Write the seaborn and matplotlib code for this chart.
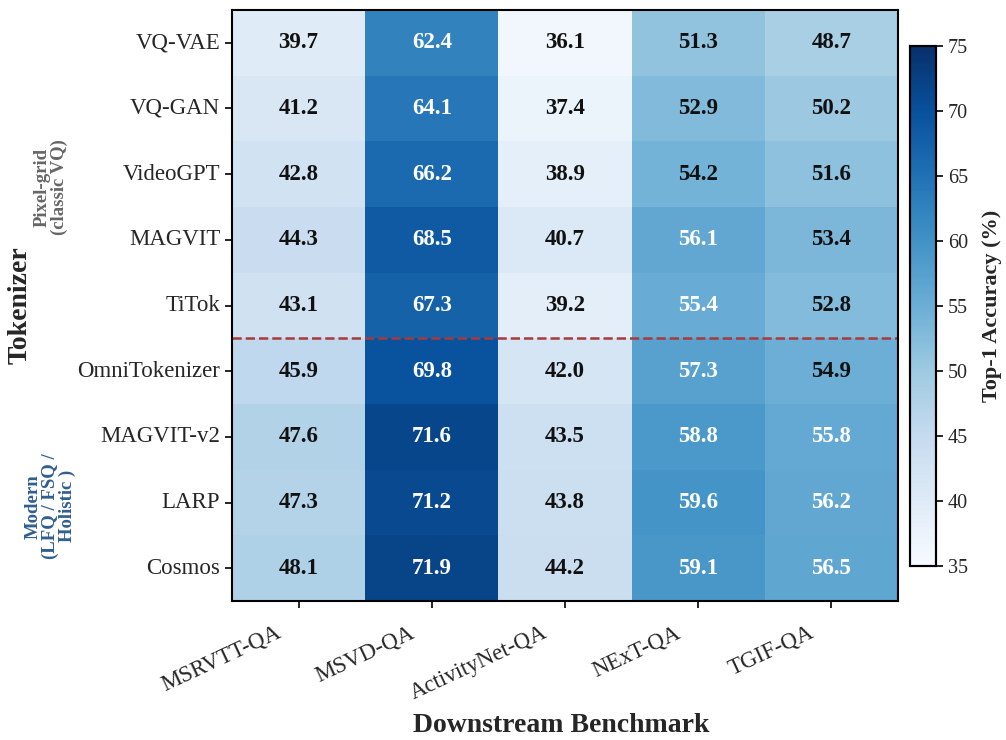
import matplotlib
matplotlib.use("Agg")
import matplotlib.pyplot as plt
import matplotlib.transforms as mtransforms
import numpy as np
import pandas as pd
import seaborn as sns

tokenizers = ["VQ-VAE", "VQ-GAN", "VideoGPT", "MAGVIT", "TiTok",
              "OmniTokenizer", "MAGVIT-v2", "LARP", "Cosmos"]
benchmarks = ["MSRVTT-QA", "MSVD-QA", "ActivityNet-QA", "NExT-QA", "TGIF-QA"]

msrvtt = [39.7, 41.2, 42.8, 44.3, 43.1, 45.9, 47.6, 47.3, 48.1]
msvd = [62.4, 64.1, 66.2, 68.5, 67.3, 69.8, 71.6, 71.2, 71.9]
activitynet = [36.1, 37.4, 38.9, 40.7, 39.2, 42.0, 43.5, 43.8, 44.2]
nextqa = [51.3, 52.9, 54.2, 56.1, 55.4, 57.3, 58.8, 59.6, 59.1]
tgif = [48.7, 50.2, 51.6, 53.4, 52.8, 54.9, 55.8, 56.2, 56.5]

n_classic = 5  # first rows are pixel-grid tokenizers

df = pd.DataFrame({
    "MSRVTT-QA": msrvtt,
    "MSVD-QA": msvd,
    "ActivityNet-QA": activitynet,
    "NExT-QA": nextqa,
    "TGIF-QA": tgif,
}, index=tokenizers)[benchmarks]

sns.set_theme(style="white")
plt.rcParams["font.family"] = ["Liberation Serif", "DejaVu Serif"]

vmin, vmax = 35, 75
fig = plt.figure(figsize=(10.06, 7.4), dpi=100)
ax = fig.add_axes([0.2306, 0.1878, 0.662, 0.7987])
cax = fig.add_axes([0.9046, 0.2351, 0.0258, 0.7027])

sns.heatmap(df, ax=ax, cbar_ax=cax, cmap="Blues", vmin=vmin, vmax=vmax,
            annot=False, cbar_kws={"label": "Top-1 Accuracy (%)"})

# annotations: light text on dark cells
thresh = (vmin + vmax) / 2
for i, tok in enumerate(tokenizers):
    for j, b in enumerate(benchmarks):
        v = df.loc[tok, b]
        ax.text(j + 0.5, i + 0.5, f"{v:.1f}", ha="center", va="center",
                fontsize=16.5, fontweight="bold",
                color="white" if v > thresh else "#111111")

for s in ax.spines.values():
    s.set_visible(True)
    s.set_linewidth(1.5)
    s.set_color("black")

ax.tick_params(axis="both", which="major", length=5, width=1.2,
               bottom=True, left=True, color="black")
ax.set_xticklabels(benchmarks, rotation=25, ha="right", fontsize=16.5)
ax.set_yticklabels(tokenizers, rotation=0, fontsize=16.5)

# nudge rotated benchmark names down-left of their ticks
shift = mtransforms.ScaledTranslation(-0.14, -0.09, fig.dpi_scale_trans)
for lbl in ax.get_xticklabels():
    lbl.set_transform(lbl.get_transform() + shift)

ax.set_xlabel("Downstream Benchmark", fontsize=20, fontweight="bold")
ax.xaxis.set_label_coords(0.495, -0.1895)
ax.set_ylabel("Tokenizer", fontsize=20, fontweight="bold")
ax.yaxis.set_label_coords(-0.299, 0.5)

# divider between tokenizer families
ax.axhline(n_classic, color="#a83a3a", linestyle="--", linewidth=1.8)

fig.text(0.051, 0.747, "Pixel-grid\n(classic VQ)", rotation=90, ha="center",
         va="center", fontsize=13.5, fontweight="bold", color="#666666",
         linespacing=1.0)
fig.text(0.050, 0.316, "Modern\n(LFQ / FSQ /\nHolistic )", rotation=90,
         ha="center", va="center", fontsize=13.5, fontweight="bold",
         color="#2f5f8f", linespacing=1.0)

cax.tick_params(labelsize=14.5, length=5, width=1.2, right=True, color="black")
cax.set_yticks([35, 40, 45, 50, 55, 60, 65, 70, 75])
cax.set_ylabel("Top-1 Accuracy (%)", fontsize=16, fontweight="bold", labelpad=10)
for s in cax.spines.values():
    s.set_visible(True)
    s.set_linewidth(1.5)
    s.set_color("black")

fig.savefig("out.png", dpi=100)
